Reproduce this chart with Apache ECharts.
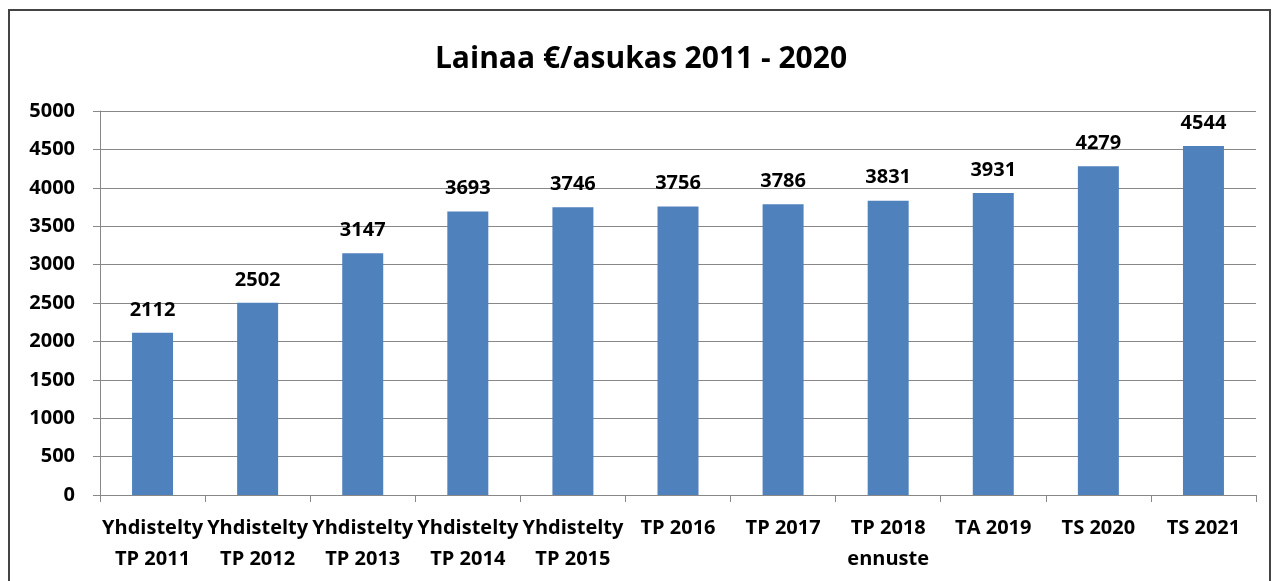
<!DOCTYPE html>
<html>
<head>
<meta charset="utf-8">
<script src="https://cdn.jsdelivr.net/npm/echarts@6/dist/echarts.min.js"></script>
<style>
html, body { margin: 0; padding: 0; background: #fff; }
#frame { position: absolute; left: 8px; top: 9px; width: 1263px; height: 600px; border: 2px solid #444; box-sizing: border-box; }
#main { position: absolute; left: 0; top: 0; width: 1282px; height: 581px; }
</style>
</head>
<body>
<div id="frame"></div>
<div id="main"></div>
<script>
// otsikko, kategoriat ja arvot
var chartTitle = 'Lainaa €/asukas 2011 - 2020';
var categories = ['Yhdistelty\nTP 2011', 'Yhdistelty\nTP 2012', 'Yhdistelty\nTP 2013', 'Yhdistelty\nTP 2014', 'Yhdistelty\nTP 2015',
    'TP 2016', 'TP 2017', 'TP 2018\nennuste', 'TA 2019', 'TS 2020', 'TS 2021'];
var lainaaValues = [2112, 2502, 3147, 3693, 3746, 3756, 3786, 3831, 3931, 4279, 4544];
var yMin = 0, yMax = 5000, yStep = 500;

var myChart = echarts.init(document.getElementById('main'));
var fontFam = '"Open Sans", Lato, sans-serif';

var option = {
    animation: false,
    title: {
        text: chartTitle,
        left: 'center',
        top: 39,
        textStyle: { fontFamily: fontFam, fontSize: 30, fontWeight: 'bold', color: '#000' }
    },
    grid: { left: 100, right: 26, top: 111, bottom: 86 },
    xAxis: {
        type: 'category',
        data: categories,
        axisLine: { lineStyle: { color: '#888', width: 1 } },
        axisTick: { show: true, length: 7, alignWithLabel: false, lineStyle: { color: '#888' } },
        axisLabel: {
            interval: 0,
            margin: 18,
            color: '#000',
            fontFamily: fontFam,
            fontSize: 20,
            fontWeight: 'bold',
            lineHeight: 31
        }
    },
    yAxis: {
        type: 'value',
        min: yMin,
        max: yMax,
        interval: yStep,
        axisLine: { show: true, lineStyle: { color: '#888', width: 1 } },
        axisTick: { show: true, length: 7, lineStyle: { color: '#888' } },
        splitLine: { lineStyle: { color: '#888', width: 1 } },
        axisLabel: {
            margin: 25,
            color: '#000',
            fontFamily: fontFam,
            fontSize: 20,
            fontWeight: 'bold',
            formatter: function (v) { return String(v); }
        }
    },
    series: [
        {
            name: 'Lainaa',
            type: 'bar',
            data: lainaaValues,
            barWidth: '39%',
            itemStyle: { color: '#4F81BD' },
            label: {
                show: true,
                position: 'top',
                distance: 13,
                color: '#000',
                fontFamily: fontFam,
                fontSize: 20,
                fontWeight: 'bold'
            }
        }
    ]
};
myChart.setOption(option);
</script>
</body>
</html>
